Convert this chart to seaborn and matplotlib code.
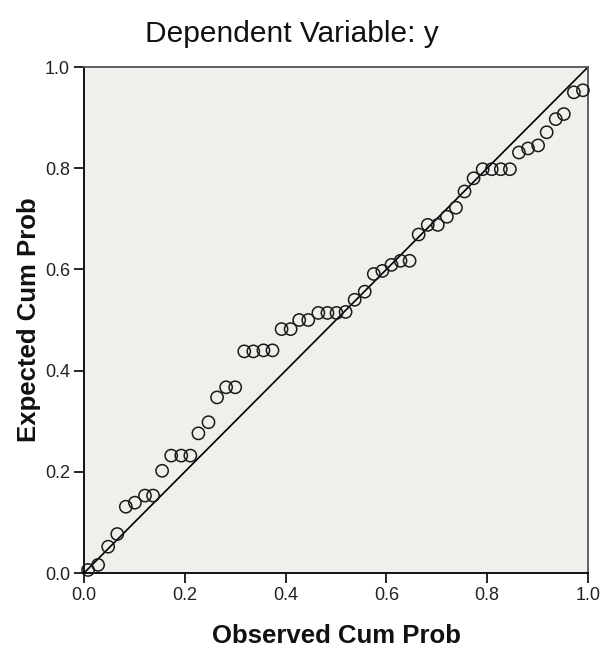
import numpy as np
import pandas as pd
import seaborn as sns
import matplotlib.pyplot as plt

sns.set_theme(style="white")
plt.rcParams["font.family"] = ["Liberation Sans", "DejaVu Sans"]

# Normal P-P plot of regression standardized residual
observed = [0.008, 0.028, 0.048, 0.066, 0.083, 0.101, 0.121, 0.137, 0.155, 0.173,
            0.193, 0.211, 0.227, 0.247, 0.264, 0.282, 0.300, 0.318, 0.336, 0.356,
            0.374, 0.392, 0.410, 0.427, 0.445, 0.465, 0.483, 0.501, 0.519, 0.537,
            0.557, 0.575, 0.592, 0.610, 0.628, 0.646, 0.664, 0.682, 0.702, 0.720,
            0.738, 0.755, 0.773, 0.791, 0.809, 0.827, 0.845, 0.863, 0.881, 0.901,
            0.918, 0.936, 0.952, 0.972, 0.990]
expected = [0.006, 0.016, 0.052, 0.077, 0.131, 0.139, 0.153, 0.153, 0.202, 0.232,
            0.232, 0.232, 0.276, 0.298, 0.347, 0.367, 0.367, 0.438, 0.438, 0.440,
            0.440, 0.482, 0.482, 0.500, 0.500, 0.514, 0.514, 0.514, 0.516, 0.540,
            0.556, 0.591, 0.597, 0.609, 0.617, 0.617, 0.669, 0.688, 0.688, 0.704,
            0.722, 0.754, 0.780, 0.798, 0.798, 0.798, 0.798, 0.831, 0.839, 0.845,
            0.871, 0.897, 0.907, 0.950, 0.954]
ticks = [0.0, 0.2, 0.4, 0.6, 0.8, 1.0]
tick_labels = ["0.0", "0.2", "0.4", "0.6", "0.8", "1.0"]

df = pd.DataFrame({"observed": observed, "expected": expected})

fig = plt.figure(figsize=(6.03, 6.54), dpi=100, facecolor="white")
ax = fig.add_axes([84 / 603, 1 - 573 / 654, 504 / 603, 506 / 654])
ax.set_facecolor("#efefeb")

# reference line
ax.plot([0, 1], [0, 1], color="black", lw=1.2, zorder=2)

sns.scatterplot(data=df, x="observed", y="expected", ax=ax, marker="o", s=78,
                facecolor="none", edgecolor="#1a1a1a", linewidth=1.1,
                zorder=3, clip_on=False)

ax.set_xlim(0, 1)
ax.set_ylim(0, 1)
ax.set_xticks(ticks)
ax.set_xticklabels(tick_labels)
ax.set_yticks(ticks)
ax.set_yticklabels(tick_labels)
ax.tick_params(axis="both", direction="out", length=7, width=1.2, color="black",
               labelsize=13, labelcolor="#222222", pad=3,
               bottom=True, left=True, top=False, right=False)

for side in ["left", "bottom", "top", "right"]:
    ax.spines[side].set_visible(True)
    ax.spines[side].set_color("black")
    ax.spines[side].set_linewidth(1.3)
ax.spines["top"].set_color("#555555")
ax.spines["right"].set_color("#555555")

ax.set_xlabel("Observed Cum Prob", fontsize=18.5, fontweight="bold", color="#111111")
ax.set_ylabel("Expected Cum Prob", fontsize=18.5, fontweight="bold", color="#111111")
ax.xaxis.set_label_coords(0.5, -0.1)
ax.yaxis.set_label_coords(-0.085, 0.5)

fig.text(0.484, 0.948, "Dependent Variable: y", fontsize=21.5, ha="center", va="center",
         color="#111111", fontweight="medium")

fig.savefig("out.png", dpi=100)
